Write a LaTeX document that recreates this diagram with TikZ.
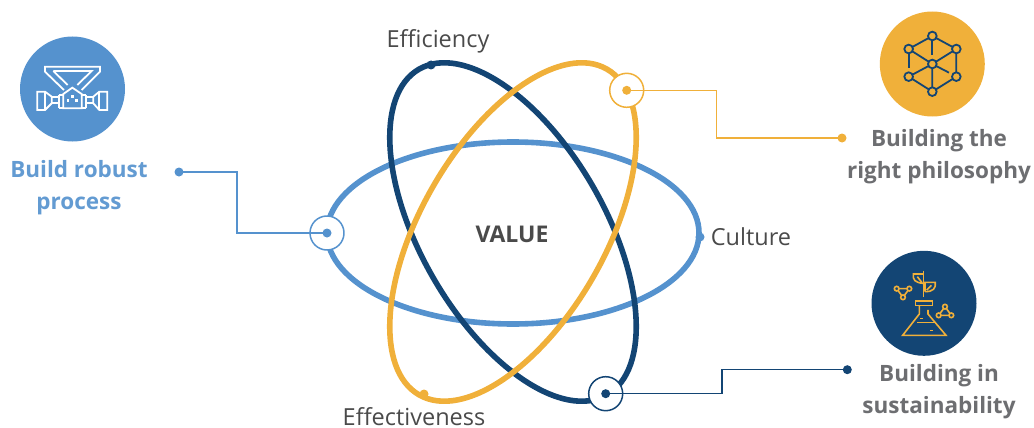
\documentclass[tikz,border=0pt]{standalone}
\usepackage{fontspec}
\setmainfont{Open Sans}
\usepackage{xcolor}
\usetikzlibrary{positioning}
\definecolor{orbitblue}{HTML}{5592CE}
\definecolor{orbitnavy}{HTML}{134574}
\definecolor{orbitgold}{HTML}{F0B03A}
\definecolor{labelgrey}{HTML}{6D6E71}
\definecolor{wordgrey}{HTML}{4A4A4A}
\begin{document}
\begin{tikzpicture}[x=1pt,y=-1pt, line cap=round, line join=round]
	\useasboundingbox (0,0) rectangle (1034,428);
	\tikzset{
		orbit/.style={line width=5.6pt},
		leader/.style={line width=1.1pt, line cap=butt, line join=miter},
		ring/.style={circle, draw=#1, fill=white, line width=1.5pt, minimum size=34pt, inner sep=0pt},
		pin/.style={circle, fill=#1, minimum size=9pt, inner sep=0pt},
		tip/.style={circle, fill=#1, minimum size=9pt, inner sep=0pt},
		word/.style={text=wordgrey, inner sep=0pt, font=\fontsize{23.5}{28}\selectfont},
		goal/.style={text=#1, align=center, font=\fontsize{22.5}{32}\selectfont\bfseries},
		badge/.style={circle, fill=#1, minimum size=105pt, inner sep=0pt},
		iconline/.style={line width=#1, line cap=butt, line join=miter}
	}
	
	% ===== orbits =====
	\draw[orbit, orbitblue] (513,233) ellipse [x radius=186, y radius=91];
	\draw[orbit, orbitnavy] (513,232) ellipse [x radius=188, y radius=92, rotate=120];
	\draw[orbit, orbitgold] (513,232) ellipse [x radius=188, y radius=92, rotate=-120];
	
	% small dots on the orbits
	\node[tip=orbitnavy] (efficiencydot) at (431,65) {};
	\node[tip=orbitblue] (culturedot) at (700,237) {};
	\node[tip=orbitgold] (effectdot) at (424,394) {};
	
	% ===== words =====
	\node[word] (efficiency) at (438,41) {Efficiency};
	\node[word] (culture) at (751,237) {Culture};
	\node[word] (effectiveness) at (414,417) {Effectiveness};
	\node[text=wordgrey, font=\fontsize{23}{27}\selectfont\bfseries] (value) at (512,234) {VALUE};
	
	% ===== rings and leaders =====
	\node[ring=orbitblue] (bluering) at (327,233) {};
	\node[ring=orbitgold] (goldring) at (626.7,90.3) {};
	\node[ring=orbitnavy] (navyring) at (605.7,393.7) {};
	
	\node[pin=orbitblue] (bluepin) at (bluering) {};
	\node[pin=orbitgold] (goldpin) at (goldring) {};
	\node[pin=orbitnavy] (navypin) at (navyring) {};
	
	\node[tip=orbitblue] (bluetip) at (179,172) {};
	\node[tip=orbitgold] (goldtip) at (842,138) {};
	\node[tip=orbitnavy] (navytip) at (847.3,369.7) {};
	
	\coordinate (bluebend) at (237,172);
	\coordinate (goldbend) at (716.7,138);
	\coordinate (navybend) at (722,369.7);
	
	\draw[leader, orbitblue] (bluetip.center) -- (bluebend) |- (bluepin.center);
	\draw[leader, orbitgold] (goldpin.center) -| (goldbend) -- (goldtip.center);
	\draw[leader, orbitnavy] (navypin.center) -| (navybend) -- (navytip.center);
	
	% ===== goals =====
	\node[goal=orbitblue!92!white] (robust) at (79,188) {Build robust\\process};
	\node[goal=labelgrey] (philosophy) at (939,156.5) {Building the\\right philosophy};
	\node[goal=labelgrey] (sustain) at (939,391.5) {Building in\\sustainability};
	
	% ===== badges =====
	\node[badge=orbitblue] (processbadge) at (72.5,89) {};
	\node[badge=orbitgold] (cubebadge) at (932.3,64) {};
	\node[badge=orbitnavy] (flaskbadge) at (924,303.3) {};
	
	% ===== process icon =====
	\begin{scope}[x=0.3333pt,y=-0.3333pt,yshift=-20pt]
		\draw[iconline=1.8pt, white] (192,210) -- (135,155) -- (135,140) -- (300,140) -- (300,155) -- (245,210);
		\draw[iconline=1.8pt, white] (160,153) -- (275,153) -- (232,195);
		\draw[iconline=1.8pt, white] (160,153) -- (203,195);
		\draw[iconline=1.8pt, white] (190,265) -- (190,222) -- (217,203) -- (245,222) -- (245,265) -- cycle;
		\draw[iconline=1.8pt, white] (112,215) -- (135,215) -- (155,230) -- (155,250) -- (135,270) -- (112,270) -- cycle;
		\draw[iconline=1.8pt, white] (322,215) -- (298,215) -- (280,230) -- (280,250) -- (298,270) -- (322,270) -- cycle;
		\draw[iconline=1.8pt, white] (135,215) -- (135,270) (298,215) -- (298,270);
		\draw[iconline=1.8pt, white] (176,225) -- (176,265);
		\draw[iconline=1.8pt, white] (190,225) -- (176,225) (176,265) -- (190,265);
		\draw[iconline=1.8pt, white] (155,230) -- (176,230) (155,250) -- (176,250);
		\draw[iconline=1.8pt, white] (259,225) -- (259,265);
		\draw[iconline=1.8pt, white] (245,225) -- (259,225) (259,265) -- (245,265);
		\draw[iconline=1.8pt, white] (280,230) -- (259,230) (280,250) -- (259,250);
		\foreach \x/\y in {217/230,204/242,230/242}{
			\fill[white] (\x-4,\y-4) rectangle (\x+4,\y+4);
		}
	\end{scope}
	
	% ===== cube icon =====
	\begin{scope}[x=0.3333pt,y=-0.3333pt,xshift=860pt]
		\draw[iconline=1.8pt, orbitnavy] (217,108) -- (146,147) -- (217,192) -- (289,147) -- (217,108);
		\draw[iconline=1.8pt, orbitnavy] (217,108) -- (217,165);
		\draw[iconline=1.8pt, orbitnavy] (146,147) -- (146,203);
		\draw[iconline=1.8pt, orbitnavy] (289,147) -- (289,230) -- (217,275) -- (146,230) -- (217,192) -- (217,275);
		\draw[iconline=1.8pt, orbitnavy] (217,192) -- (267,218);
		\foreach \x/\y in {217/108,146/147,289/147,217/192,146/230,289/230,217/275}{
			\draw[iconline=1.8pt, orbitnavy, fill=orbitgold] (\x,\y) circle (13);
		}
	\end{scope}
	
	% ===== flask icon =====
	\begin{scope}[x=0.3333pt,y=-0.3333pt,xshift=860pt,yshift=-240pt]
		\draw[iconline=1.6pt, orbitgold] (166,183) rectangle (218,197);
		\draw[iconline=1.6pt, orbitgold] (178,197) -- (178,222) -- (128,286) -- (258,286) -- (204,222) -- (204,210);
		\draw[iconline=1.6pt, orbitgold] (172,248) -- (228,248);
		\draw[iconline=1.6pt, orbitgold] (180,236) -- (190,236) (210,272) -- (218,272);
		\draw[iconline=1.6pt, orbitgold] (190,92) -- (190,170);
		\draw[iconline=1.6pt, orbitgold] (190,102) -- (160,102) .. controls (158,120) and (165,128) .. (190,130);
		\draw[iconline=1.6pt, orbitgold] (195,155) .. controls (220,155) and (228,145) .. (226,127) -- (195,127) -- (195,155);
		\draw[iconline=1.6pt, orbitgold] (172,110) -- (186,128) (200,150) -- (214,136);
		\draw[iconline=1.6pt, orbitgold] (110,146) -- (148,146) -- (129,172) -- cycle;
		\draw[iconline=1.6pt, orbitgold] (255,200) -- (236,226) -- (274,226) -- cycle;
		\foreach \x/\y in {110/146,148/146,129/172,255/200,236/226,274/226}{
			\draw[iconline=1.6pt, orbitgold, fill=orbitnavy] (\x,\y) circle (7);
		}
	\end{scope}
\end{tikzpicture}
\end{document}
